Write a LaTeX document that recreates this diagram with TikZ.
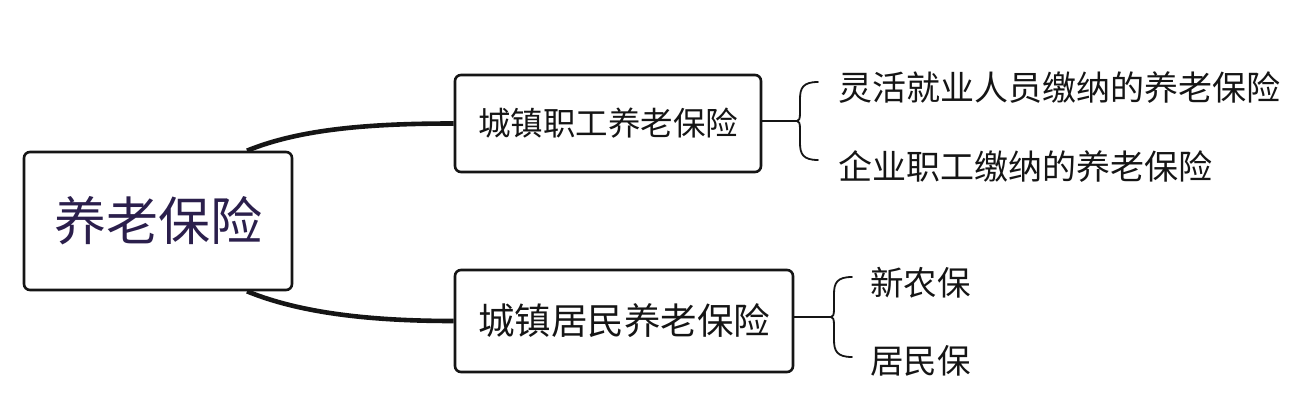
\documentclass[tikz,border=0pt]{standalone}
\usepackage{fontspec}
\setmainfont{Noto Sans CJK SC}
\definecolor{rootink}{HTML}{2B1F4C}
\definecolor{ink}{HTML}{151515}
\tikzset{
  box/.style={draw=ink, line width=2.6pt, rounded corners=6pt, fill=white, inner sep=0pt},
  conn/.style={draw=ink, line width=4.6pt},
  bline/.style={draw=ink, line width=1.8pt, line cap=round},
  leaf/.style={anchor=west, inner sep=0pt, text=ink}
}
\begin{document}
\begin{tikzpicture}[x=1pt,y=1pt]
\fill[white] (0,0) rectangle (1306,416);
\useasboundingbox (0,0) rectangle (1306,416);

% connectors
\coordinate (r1) at (247,264);
\coordinate (r2) at (247,126);

% boxes
\node[box, minimum width=268pt, minimum height=138pt, text=rootink,
      font=\fontsize{52}{60}\selectfont] (root) at (158,195) {养老保险};
\node[box, minimum width=306pt, minimum height=97pt, text=ink,
      font=\fontsize{32.5}{40}\selectfont] (b1) at (608,292.5) {城镇职工养老保险};
\node[box, minimum width=338pt, minimum height=102pt, text=ink,
      font=\fontsize{36.5}{44}\selectfont] (b2) at (624,95) {城镇居民养老保险};

\draw[conn] ([xshift=89pt]root.north) .. controls (300,287) and (370,292.5) .. (b1.west);
\draw[conn] ([xshift=89pt]root.south) .. controls (300,103) and (370,95) .. (b2.west);

% brace 1
\coordinate (t1) at (797,295);
\draw[bline] (b1.east |- t1) -- (t1);
\begin{scope}[shift={(t1)}]
\draw[bline] (21,39) .. controls (6,39) and (3,33) .. (3,22) -- (3,8)
  .. controls (3,2) and (2,0) .. (0,0)
  .. controls (2,0) and (3,-2) .. (3,-8) -- (3,-22)
  .. controls (3,-33) and (6,-39) .. (21,-39);
\end{scope}

% brace 2
\coordinate (t2) at (831,99);
\draw[bline] (b2.east |- t2) -- (t2);
\begin{scope}[shift={(t2)}]
\draw[bline] (21,40) .. controls (6,40) and (3,34) .. (3,23) -- (3,8)
  .. controls (3,2) and (2,0) .. (0,0)
  .. controls (2,0) and (3,-2) .. (3,-8) -- (3,-23)
  .. controls (3,-34) and (6,-40) .. (21,-40);
\end{scope}

% leaves
\node[leaf, font=\fontsize{34}{40}\selectfont] (l1) at (838,328) {灵活就业人员缴纳的养老保险};
\node[leaf, font=\fontsize{34}{40}\selectfont] (l2) at (838,249) {企业职工缴纳的养老保险};
\node[leaf, font=\fontsize{33.5}{40}\selectfont] (l3) at (870,133) {新农保};
\node[leaf, font=\fontsize{33.5}{40}\selectfont] (l4) at (870,55) {居民保};
\end{tikzpicture}
\end{document}
